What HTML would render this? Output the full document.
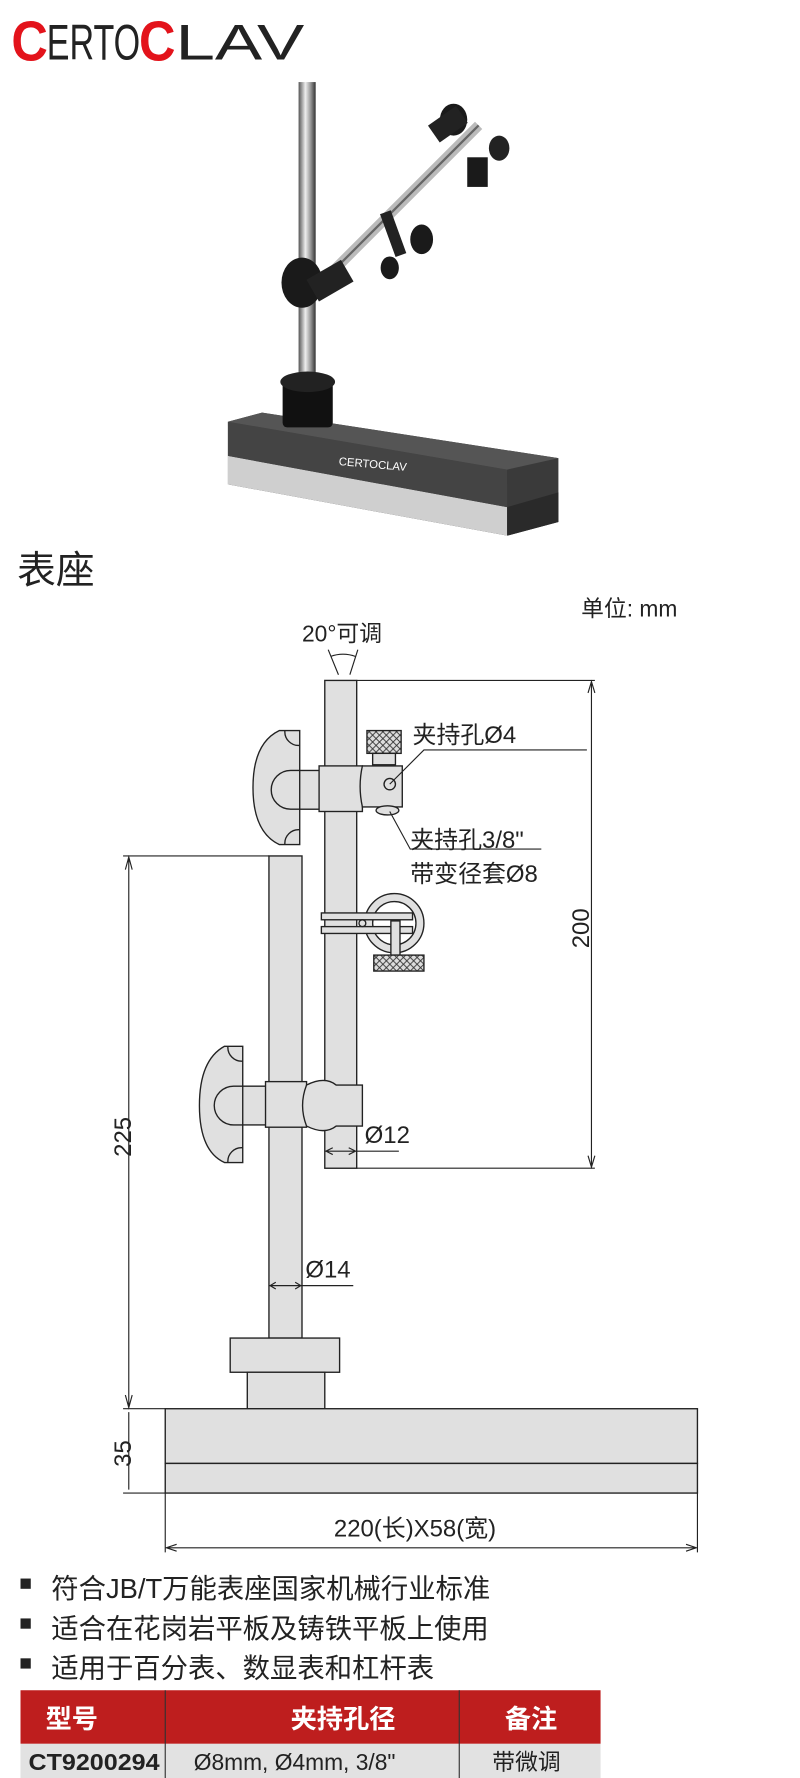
<!DOCTYPE html>
<html><head><meta charset="utf-8"><style>
html,body{margin:0;padding:0;background:#fff;}
svg{display:block;}
text{font-family:"Liberation Sans","Noto Sans CJK SC",sans-serif;}
</style></head><body>
<svg width="800" height="1778" viewBox="0 0 702 1560" preserveAspectRatio="none" xmlns="http://www.w3.org/2000/svg">
<defs>
<pattern id="kn" width="6" height="6" patternUnits="userSpaceOnUse"><rect width="6" height="6" fill="#ddd"/><path d="M0 0L6 6M6 0L0 6" stroke="#333" stroke-width="0.8"/></pattern>
<linearGradient id="rod" x1="0" x2="1"><stop offset="0" stop-color="#555"/><stop offset="0.4" stop-color="#eee"/><stop offset="0.7" stop-color="#999"/><stop offset="1" stop-color="#333"/></linearGradient>
</defs>
<!-- logo -->
<text x="10" y="53" font-size="50" fill="#e3131b" font-weight="bold" textLength="32" lengthAdjust="spacingAndGlyphs">C</text>
<text x="41" y="52" font-size="44" fill="#222" textLength="82" lengthAdjust="spacingAndGlyphs">ERTO</text>
<text x="122" y="53" font-size="50" fill="#e3131b" font-weight="bold" textLength="32" lengthAdjust="spacingAndGlyphs">C</text>
<text x="154" y="52" font-size="44" fill="#222" textLength="113" lengthAdjust="spacingAndGlyphs">LAV</text>
<!-- photo -->
<polygon points="200,370 230,362 490,402 490,458 445,470 200,425" fill="#3a3a3a"/>
<polygon points="200,400 445,445 445,470 200,425" fill="#cfcfcf"/>
<polygon points="445,445 490,432 490,458 445,470" fill="#2a2a2a"/>
<polygon points="200,370 445,412 445,445 200,400" fill="#444"/>
<polygon points="230,362 490,402 445,412 200,370" fill="#555"/>
<text x="297" y="408" font-size="10" fill="#fff" transform="rotate(5 297 408)">CERTOCLAV</text>
<rect x="262" y="72" width="15" height="270" fill="url(#rod)"/>
<rect x="248" y="335" width="44" height="40" fill="#111" rx="4"/>
<ellipse cx="270" cy="335" rx="24" ry="9" fill="#222"/>
<line x1="280" y1="250" x2="420" y2="110" stroke="#bbb" stroke-width="9"/>
<line x1="280" y1="250" x2="420" y2="110" stroke="#666" stroke-width="2"/>
<ellipse cx="265" cy="248" rx="18" ry="22" fill="#1a1a1a"/>
<rect x="272" y="235" width="35" height="22" fill="#222" transform="rotate(-30 290 246)"/>
<ellipse cx="398" cy="105" rx="12" ry="14" fill="#1a1a1a"/>
<rect x="410" y="138" width="18" height="26" fill="#1a1a1a"/>
<ellipse cx="438" cy="130" rx="9" ry="11" fill="#222"/>
<rect x="378" y="100" width="30" height="18" fill="#222" transform="rotate(-35 393 109)"/>
<ellipse cx="370" cy="210" rx="10" ry="13" fill="#1a1a1a"/>
<ellipse cx="342" cy="235" rx="8" ry="10" fill="#1a1a1a"/>
<rect x="340" y="185" width="10" height="40" fill="#222" transform="rotate(-20 345 205)"/>
<!-- titles -->
<text x="15" y="512" font-size="34" fill="#222">表座</text>
<text x="510" y="541" font-size="20" fill="#222">单位: mm</text>
<text x="265" y="563" font-size="20" fill="#222">20°可调</text>
<g stroke="#222" stroke-width="1" fill="none">
<path d="M288 570 L297 592 M314 570 L307 592 M290 576 Q301 572 312 576"/>
</g>
<g stroke="#222" stroke-width="1.2" fill="#e0e0e0">
<rect x="285" y="597" width="28" height="428"/>
<rect x="236" y="751" width="29" height="423"/>
<path d="M263 641 L245 641 Q222 652 222 691 Q222 730 245 741 L263 741 Z"/>
<path d="M263 676 L255 676 A17 17 0 0 0 255 710 L263 710"/>
<path d="M250 641 A12 12 0 0 0 263 654 M250 741 A12 12 0 0 1 263 728" fill="none"/>
<rect x="263" y="676" width="22" height="34"/>
<rect x="280" y="672" width="38" height="40"/>
<path d="M318 672 L353 672 L353 708 L318 708 Q314 690 318 672 Z"/>
<circle cx="342" cy="688" r="5"/>
<rect x="322" y="641" width="30" height="20" fill="url(#kn)"/>
<rect x="327" y="661" width="20" height="10"/>
<ellipse cx="340" cy="711" rx="10" ry="4"/>
<circle cx="346" cy="810" r="26"/>
<circle cx="346" cy="810" r="19" fill="#fff"/>
<rect x="282" y="801" width="80" height="6"/>
<rect x="282" y="813" width="80" height="6"/>
<circle cx="318" cy="810" r="3"/>
<rect x="343" y="808" width="8" height="30"/>
<rect x="328" y="838" width="44" height="14" fill="url(#kn)"/>
<path d="M213 918 L197 918 Q175 930 175 970 Q175 1010 197 1020 L213 1020 Z"/>
<path d="M213 953 L205 953 A17 17 0 0 0 205 987 L213 987"/>
<path d="M200 918 A12 12 0 0 0 213 931 M200 1020 A12 12 0 0 1 213 1007" fill="none"/>
<rect x="213" y="953" width="22" height="34"/>
<rect x="233" y="949" width="36" height="40"/>
<path d="M269 952 Q285 944 295 952 L318 952 L318 988 L295 988 Q285 996 269 988 Q262 970 269 952 Z"/>
<rect x="202" y="1174" width="96" height="30"/>
<rect x="217" y="1204" width="68" height="32"/>
<rect x="145" y="1236" width="467" height="48"/>
<rect x="145" y="1284" width="467" height="26"/>
</g>
<g stroke="#222" stroke-width="1" fill="none">
<path d="M313 597 L522 597 M313 1025 L522 1025 M519 600 L519 1022"/>
<path d="M516 608 L519 598 L522 608 M516 1014 L519 1024 L522 1014"/>
<path d="M108 751 L236 751 M113 754 L113 1233 M110 763 L113 752 L116 763 M110 1224 L113 1235 L116 1224"/>
<path d="M108 1236 L145 1236 M108 1310 L145 1310 M113 1239 L113 1307"/>
<path d="M145 1310 L145 1362 M612 1310 L612 1362 M147 1358 L610 1358 M155 1355 L146 1358 L155 1361 M602 1355 L611 1358 L602 1361"/>
<path d="M285 1010 L350 1010 M292 1007 L286 1010 L292 1013 M306 1007 L312 1010 L306 1013"/>
<path d="M236 1128 L310 1128 M242 1125 L237 1128 L242 1131 M259 1125 L264 1128 L259 1131"/>
<path d="M342 688 L372 658 L515 658"/>
<path d="M342 712 L360 745 L475 745"/>
</g>
<g font-size="21" fill="#222">
<text x="362" y="652">夹持孔Ø4</text>
<text x="360" y="744">夹持孔3/8"</text>
<text x="360" y="774">带变径套Ø8</text>
<text x="320" y="1003">Ø12</text>
<text x="268" y="1121">Ø14</text>
<text transform="translate(517 832) rotate(-90)">200</text>
<text transform="translate(115 1015) rotate(-90)">225</text>
<text transform="translate(115 1287) rotate(-90)">35</text>
<text x="293" y="1348">220(长)X58(宽)</text>
</g>
<g font-size="24" fill="#222">
<rect x="18" y="1385" width="9" height="9"/><text x="45" y="1402">符合JB/T万能表座国家机械行业标准</text>
<rect x="18" y="1420" width="9" height="9"/><text x="45" y="1437">适合在花岗岩平板及铸铁平板上使用</text>
<rect x="18" y="1455" width="9" height="9"/><text x="45" y="1472">适用于百分表、数显表和杠杆表</text>
</g>
<rect x="18" y="1483" width="509" height="47" fill="#be1e1e"/>
<rect x="18" y="1530" width="509" height="30" fill="#e2e2e2"/>
<line x1="145" y1="1483" x2="145" y2="1560" stroke="#333" stroke-width="1"/>
<line x1="403" y1="1483" x2="403" y2="1560" stroke="#333" stroke-width="1"/>
<g font-size="23" fill="#fff" font-weight="bold">
<text x="40" y="1516">型号</text>
<text x="255" y="1516">夹持孔径</text>
<text x="443" y="1516">备注</text>
</g>
<g font-size="20" fill="#222">
<text x="25" y="1553" font-family="Liberation Mono" font-weight="bold" textLength="115" lengthAdjust="spacingAndGlyphs">CT9200294</text>
<text x="170" y="1553">Ø8mm, Ø4mm, 3/8"</text>
<text x="432" y="1553">带微调</text>
</g>
</svg>
</body></html>
